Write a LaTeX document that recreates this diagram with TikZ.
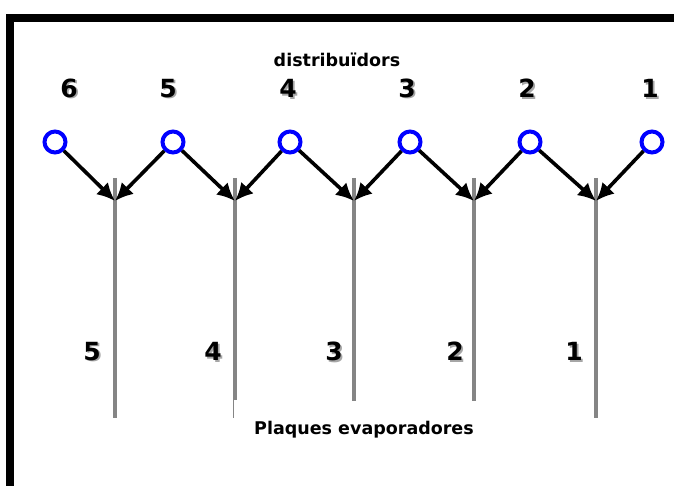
\documentclass[tikz,border=0pt]{standalone}
\usepackage{fontspec}
\setmainfont{DejaVu Sans}
\usetikzlibrary{arrows.meta}
\newcommand\shnum[1]{\makebox[0pt][l]{\kern1.8pt\raisebox{-1.8pt}{\textcolor{black!35}{#1}}}#1}
\begin{document}
\begin{tikzpicture}[x=1pt,y=-1pt,
  dist/.style={circle,draw=blue,line width=4pt,minimum size=21pt,inner sep=0pt},
  plate/.style={draw=black!48,line width=4pt},
  feed/.style={draw=black,line width=3.6pt,-{Latex[length=18pt,width=17pt]}},
  num/.style={font=\bfseries\fontsize{25}{25}\selectfont,inner sep=0pt},
  lbl/.style={font=\bfseries\fontsize{17.5}{17.5}\selectfont,inner sep=0pt}]
\useasboundingbox (0,0) rectangle (674,486);
\fill[white] (0,0) rectangle (674,486);
% frame
\draw[line width=8pt] (10,490) -- (10,18) -- (680,18);
% titles
\node[lbl] (tdist) at (337,60) {distribuïdors};
\node[lbl] (tplaq) at (364,430) {Plaques evaporadores};
% distributor numbers
\foreach \n/\x in {6/69,5/168,4/288,3/407,2/527,1/650}{
  \node[num] (n\n) at (\x,89) {\shnum{\n}};
}
% distributors
\foreach \n/\x in {6/55,5/173,4/290,3/410,2/530,1/652}{
  \node[dist] (c\n) at (\x,142) {};
}
% plates
\draw[plate] (115,178) -- (115,418);
\draw[plate] (235,178) -- (235,400);
\draw[black!48,line width=1pt] (233.5,400) -- (233.5,418);
\draw[plate] (354,178) -- (354,401);
\draw[plate] (474,178) -- (474,401);
\draw[plate] (596,178) -- (596,418);
% arrow tips on plates
\coordinate (p5) at (115,201);
\coordinate (p4) at (235,201);
\coordinate (p3) at (354,201);
\coordinate (p2) at (474,201);
\coordinate (p1) at (596,201);
\draw[feed] (c6) -- (p5);
\draw[feed] (c5) -- (p5);
\draw[feed] (c5) -- (p4);
\draw[feed] (c4) -- (p4);
\draw[feed] (c4) -- (p3);
\draw[feed] (c3) -- (p3);
\draw[feed] (c3) -- (p2);
\draw[feed] (c2) -- (p2);
\draw[feed] (c2) -- (p1);
\draw[feed] (c1) -- (p1);
% plate numbers
\foreach \n/\x in {5/92,4/213,3/334,2/455,1/574}{
  \node[num] (b\n) at (\x,352) {\shnum{\n}};
}
\end{tikzpicture}
\end{document}
